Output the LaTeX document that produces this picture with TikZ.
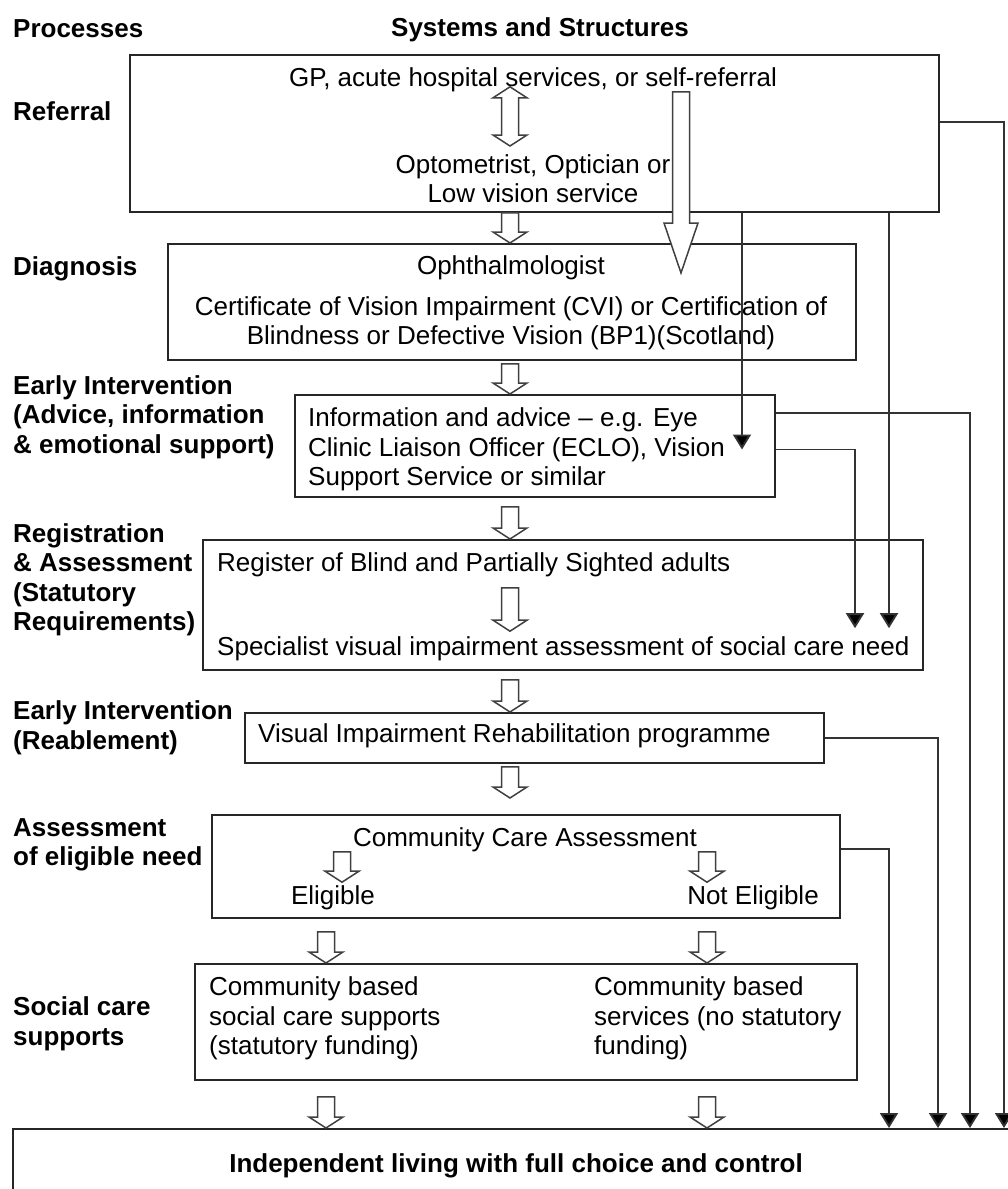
\documentclass[tikz,border=0pt]{standalone}
\usepackage{fontspec}
\setmainfont{Liberation Sans}
\usetikzlibrary{arrows.meta,calc,positioning}
\newcommand{\txt}{\fontsize{26pt}{29.5pt}\selectfont}
\tikzset{
  stage/.style={draw=black!85, line width=1.8pt, inner sep=0pt, anchor=north west},
  proc/.style={font=\txt\bfseries, anchor=west, align=left, inner sep=0pt, yshift=-2pt},
  body/.style={font=\txt, inner sep=0pt, yshift=-2.5pt},
  link/.style={draw=black!80, line width=1.9pt, -{Triangle[width=18pt,length=15pt,fill=black]}},
  hollow/.style={draw=black!75, fill=white, line width=1.5pt, line join=miter},
}
% hollow block arrows, optional head length
\newcommand{\blockarrow}[3][11pt]{%
  \draw[hollow] let \p1=(#2), \p2=(#3) in
    (\x1-8.5pt,\y1) -- (\x1+8.5pt,\y1) -- (\x1+8.5pt,\y2+#1) -- (\x1+17pt,\y2+#1)
    -- (\x1,\y2) -- (\x1-17pt,\y2+#1) -- (\x1-8.5pt,\y2+#1) -- cycle;}
\newcommand{\blockarrowboth}[2]{%
  \draw[hollow] let \p1=(#1), \p2=(#2) in
    (\x1,\y1) -- (\x1+17pt,\y1-11pt) -- (\x1+8.5pt,\y1-11pt) -- (\x1+8.5pt,\y2+11pt)
    -- (\x1+17pt,\y2+11pt) -- (\x1,\y2) -- (\x1-17pt,\y2+11pt) -- (\x1-8.5pt,\y2+11pt)
    -- (\x1-8.5pt,\y1-11pt) -- (\x1-17pt,\y1-11pt) -- cycle;}
\begin{document}
\begin{tikzpicture}[x=1pt,y=-1pt]
    \useasboundingbox (0,0) rectangle (1008,1189);
    \clip (0,0) rectangle (1008,1189);

    % column coordinates
    \coordinate (cmid) at (510,0);
    \coordinate (cleft) at (326,0);
    \coordinate (cright) at (707,0);
    \coordinate (celig) at (342,0);
    \coordinate (cbig) at (681,0);
    \coordinate (cE) at (742,0);
    \coordinate (cF) at (855,0);
    \coordinate (cA) at (889,0);
    \coordinate (cB) at (938,0);
    \coordinate (cC) at (970,0);
    \coordinate (cD) at (1004,0);

    % headings and process labels
    \node[proc] (hproc) at (13,27) {Processes};
    \node[body, font=\txt\bfseries] (hsys) at (540,27) {Systems and Structures};
    \node[proc] (lref) at (13,109) {Referral};
    \node[proc] (ldiag) at (13,267) {Diagnosis};
    \node[proc] (learly) at (13,415) {Early Intervention\\(Advice, information\\\& emotional support)};
    \node[proc] (lreg) at (13,578) {Registration\\\& Assessment\\(Statutory\\Requirements)};
    \node[proc] (lreab) at (13,726) {Early Intervention\\(Reablement)};
    \node[proc] (lelig) at (13,843) {Assessment\\of eligible need};
    \node[proc] (lsoc) at (13,1022) {Social care\\supports};

    % boxes
    \node[stage, minimum width=809, minimum height=157] (refbox) at (129,54) {};
    \node[stage, minimum width=688, minimum height=116] (diagbox) at (167,243) {};
    \node[stage, minimum width=480, minimum height=102] (infobox) at (294,394) {};
    \node[stage, minimum width=720, minimum height=130] (regbox) at (202,539) {};
    \node[stage, minimum width=579, minimum height=50] (rehabbox) at (244,712) {};
    \node[stage, minimum width=628, minimum height=103] (ccabox) at (211,814) {};
    \node[stage, minimum width=662, minimum height=116] (socialbox) at (194,963) {};
    \node[stage, minimum width=1050, minimum height=120] (livebox) at (12,1128) {};

    % box texts
    \node[body] (gp) at (533,77) {GP, acute hospital services, or self-referral};
    \node[body, align=center] (opt) at (533,176) {Optometrist, Optician or\\Low vision service};
    \node[body] (oph) at (511,265) {Ophthalmologist};
    \node[body, align=center] (cvi) at (511,321) {Certificate of Vision Impairment (CVI) or Certification of\\Blindness or Defective Vision (BP1)(Scotland)};
    \node[body, anchor=west, align=left] (info) at (308,447) {Information and advice \textendash{} e.g. Eye\\Clinic Liaison Officer (ECLO), Vision\\Support Service or similar};
    \node[body, anchor=west] (regtop) at (217,562) {Register of Blind and Partially Sighted adults};
    \node[body, anchor=west] (regbot) at (217,646) {Specialist visual impairment assessment of social care need};
    \node[body, anchor=west] (rehab) at (258,733) {Visual Impairment Rehabilitation programme};
    \node[body] (ccatop) at (525,837) {Community Care Assessment};
    \node[body] (elig) at (333,895) {Eligible};
    \node[body] (notelig) at (753,895) {Not Eligible};
    \node[body, anchor=west, align=left] (socl) at (209,1016) {Community based\\social care supports\\(statutory funding)};
    \node[body, anchor=west, align=left] (socr) at (594,1016) {Community based\\services (no statutory\\funding)};
    \node[body, font=\txt\bfseries] (live) at (516,1163) {Independent living with full choice and control};
    \coordinate (tipreg) at ($(regbot.north)+(0,-8)$);

    % hollow arrows
    \blockarrowboth{$(gp.south -| cmid)+(0,-5)$}{$(opt.north -| cmid)+(0,-8)$}
    \blockarrow{refbox.south -| cmid}{diagbox.north -| cmid}
    \blockarrow{$(diagbox.south -| cmid)+(0,3)$}{infobox.north -| cmid}
    \blockarrow{$(infobox.south -| cmid)+(0,9)$}{regbox.north -| cmid}
    \blockarrow{$(regtop.south -| cmid)+(0,11)$}{$(regbot.north -| cmid)+(0,-5)$}
    \blockarrow{$(regbox.south -| cmid)+(0,9)$}{rehabbox.north -| cmid}
    \blockarrow{$(rehabbox.south -| cmid)+(0,3)$}{$(ccabox.north -| cmid)+(0,-16)$}
    \blockarrow{ccatop.south -| celig}{$(elig.north -| celig)+(0,-3)$}
    \blockarrow{ccatop.south -| cright}{$(elig.north -| cright)+(0,-3)$}
    \blockarrow{$(ccabox.south -| cleft)+(0,13)$}{socialbox.north -| cleft}
    \blockarrow{$(ccabox.south -| cright)+(0,13)$}{socialbox.north -| cright}
    \blockarrow{$(socialbox.south -| cleft)+(0,16)$}{livebox.north -| cleft}
    \blockarrow{$(socialbox.south -| cright)+(0,16)$}{livebox.north -| cright}
    \blockarrow[50pt]{$(gp.south -| cbig)+(0,0)$}{$(diagbox.north -| cbig)+(0,30)$}

    % connectors
    \draw[link] ($(refbox.east)+(0,-11.5)$) -| (cD |- livebox.north);
    \draw[link] (cE |- refbox.south) -- (cE |- info);
    \draw[link] (cA |- refbox.south) -- (cA |- tipreg);
    \draw[link] ($(infobox.east)+(0,-33)$) -| (cC |- livebox.north);
    \draw[link] (infobox.east |- info) -| (cF |- tipreg);
    \draw[link] (rehabbox.east) -| (cB |- livebox.north);
    \draw[link] ($(ccabox.east)+(0,-17.5)$) -| (cA |- livebox.north);
\end{tikzpicture}
\end{document}
